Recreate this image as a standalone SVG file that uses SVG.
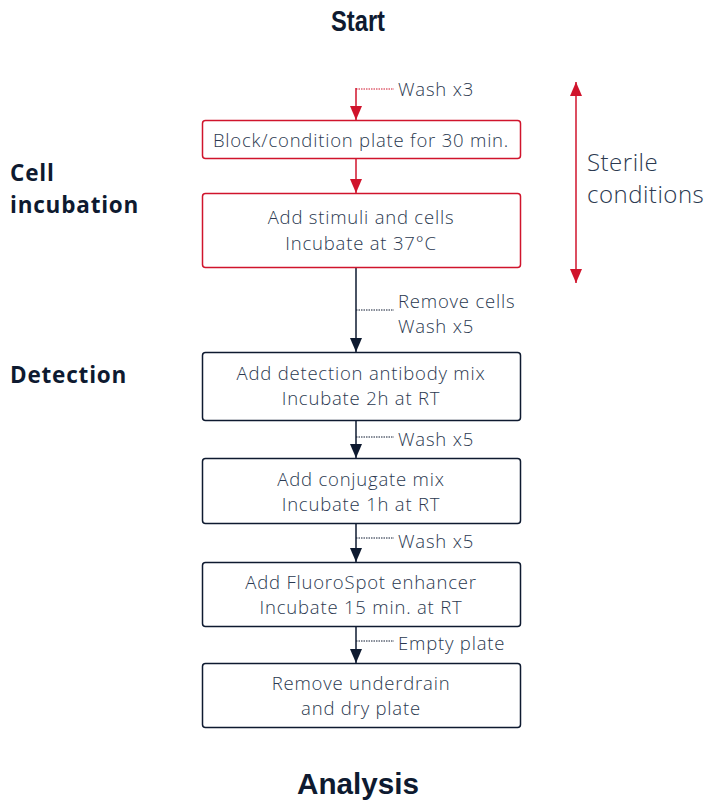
<svg xmlns="http://www.w3.org/2000/svg" width="710" height="801" viewBox="0 0 710 801">
<defs>
<marker id="ar" viewBox="0 0 14 12" refX="14" refY="6" markerWidth="14" markerHeight="12" markerUnits="userSpaceOnUse" orient="auto"><path d="M0,0 L14,6 L0,12 z" fill="#d0142c"/></marker>
<marker id="ad" viewBox="0 0 14 12" refX="14" refY="6" markerWidth="14" markerHeight="12" markerUnits="userSpaceOnUse" orient="auto"><path d="M0,0 L14,6 L0,12 z" fill="#0e1a30"/></marker>
<marker id="ar2" viewBox="0 0 14 12" refX="14" refY="6" markerWidth="14" markerHeight="12" markerUnits="userSpaceOnUse" orient="auto-start-reverse"><path d="M0,0 L14,6 L0,12 z" fill="#d0142c"/></marker>
</defs>
<style>
.title{font-family:"Liberation Sans",Arial,sans-serif;font-weight:bold;font-size:29px;fill:#0e1a30;text-anchor:middle}
.sec{font-family:"Open Sans","Noto Sans",sans-serif;font-weight:bold;font-size:22.5px;letter-spacing:0.8px;fill:#0e1a30}
.box{font-family:"Open Sans","Noto Sans",sans-serif;font-weight:300;font-size:18.5px;letter-spacing:0.8px;fill:#2b3950;text-anchor:middle}
.lbl{font-family:"Open Sans","Noto Sans",sans-serif;font-weight:300;font-size:18.5px;letter-spacing:0.8px;fill:#2b3950}
.ster{font-family:"Open Sans","Noto Sans",sans-serif;font-weight:300;font-size:24px;letter-spacing:0.5px;fill:#2b3950}
.rb{fill:#fff;stroke:#d0142c;stroke-width:1.5}
.db{fill:#fff;stroke:#0e1a30;stroke-width:1.5}
.rl{stroke:#d0142c;stroke-width:1.5;fill:none}
.dl{stroke:#0e1a30;stroke-width:1.5;fill:none}
.rdot{stroke:#d0142c;stroke-width:1;stroke-dasharray:1.5 1;fill:none}
.ddot{stroke:#0e1a30;stroke-width:1;stroke-dasharray:1.5 1;fill:none}
</style>
<rect width="710" height="801" fill="#fff"/>
<g id="start"><text class="title" x="358" y="31" textLength="54" lengthAdjust="spacingAndGlyphs">Start</text></g>
<g id="analysis"><text class="title" x="358" y="794" textLength="122" lengthAdjust="spacingAndGlyphs">Analysis</text></g>
<g id="sec-cell"><text class="sec" x="10" y="181">Cell</text><text class="sec" x="10" y="213">incubation</text></g>
<g id="sec-det"><text class="sec" x="10" y="383">Detection</text></g>
<g id="connectors">
<path class="rl" d="M356,88 V120" marker-end="url(#ar)"/>
<path class="rdot" d="M356,89 H394"/>
<path class="rl" d="M356,159 V193" marker-end="url(#ar)"/>
<path class="dl" d="M356,268 V352" marker-end="url(#ad)"/>
<path class="ddot" d="M356,310 H394"/>
<path class="dl" d="M356,421 V458" marker-end="url(#ad)"/>
<path class="ddot" d="M356,437 H394"/>
<path class="dl" d="M356,523 V562" marker-end="url(#ad)"/>
<path class="ddot" d="M356,538 H394"/>
<path class="dl" d="M356,626 V663" marker-end="url(#ad)"/>
<path class="ddot" d="M356,641 H394"/>
<path class="rl" d="M576,82 V283" marker-start="url(#ar2)" marker-end="url(#ar2)"/>
</g>
<g id="lbl-wash3"><text class="lbl" x="398" y="96">Wash x3</text></g>
<g id="lbl-remove"><text class="lbl" x="398" y="308">Remove cells</text><text class="lbl" x="398" y="333">Wash x5</text></g>
<g id="lbl-wash5a"><text class="lbl" x="398" y="446">Wash x5</text></g>
<g id="lbl-wash5b"><text class="lbl" x="398" y="548">Wash x5</text></g>
<g id="lbl-empty"><text class="lbl" x="398" y="650">Empty plate</text></g>
<g id="sterile"><text class="ster" x="587" y="171">Sterile</text><text class="ster" x="587" y="203">conditions</text></g>
<g id="n1"><rect class="rb" x="202.5" y="120.5" width="318" height="38" rx="3"/><text class="box" x="361" y="147">Block/condition plate for 30 min.</text></g>
<g id="n2"><rect class="rb" x="202.5" y="193.5" width="318" height="74" rx="3"/><text class="box" x="361" y="224">Add stimuli and cells</text><text class="box" x="361" y="250">Incubate at 37°C</text></g>
<g id="n3"><rect class="db" x="202.5" y="352.5" width="318" height="68" rx="3"/><text class="box" x="361" y="380">Add detection antibody mix</text><text class="box" x="361" y="405">Incubate 2h at RT</text></g>
<g id="n4"><rect class="db" x="202.5" y="458.5" width="318" height="65" rx="3"/><text class="box" x="361" y="486">Add conjugate mix</text><text class="box" x="361" y="511">Incubate 1h at RT</text></g>
<g id="n5"><rect class="db" x="202.5" y="562.5" width="318" height="64" rx="3"/><text class="box" x="361" y="589">Add FluoroSpot enhancer</text><text class="box" x="361" y="614">Incubate 15 min. at RT</text></g>
<g id="n6"><rect class="db" x="202.5" y="663.5" width="318" height="64" rx="3"/><text class="box" x="361" y="690">Remove underdrain</text><text class="box" x="361" y="715">and dry plate</text></g>
</svg>
